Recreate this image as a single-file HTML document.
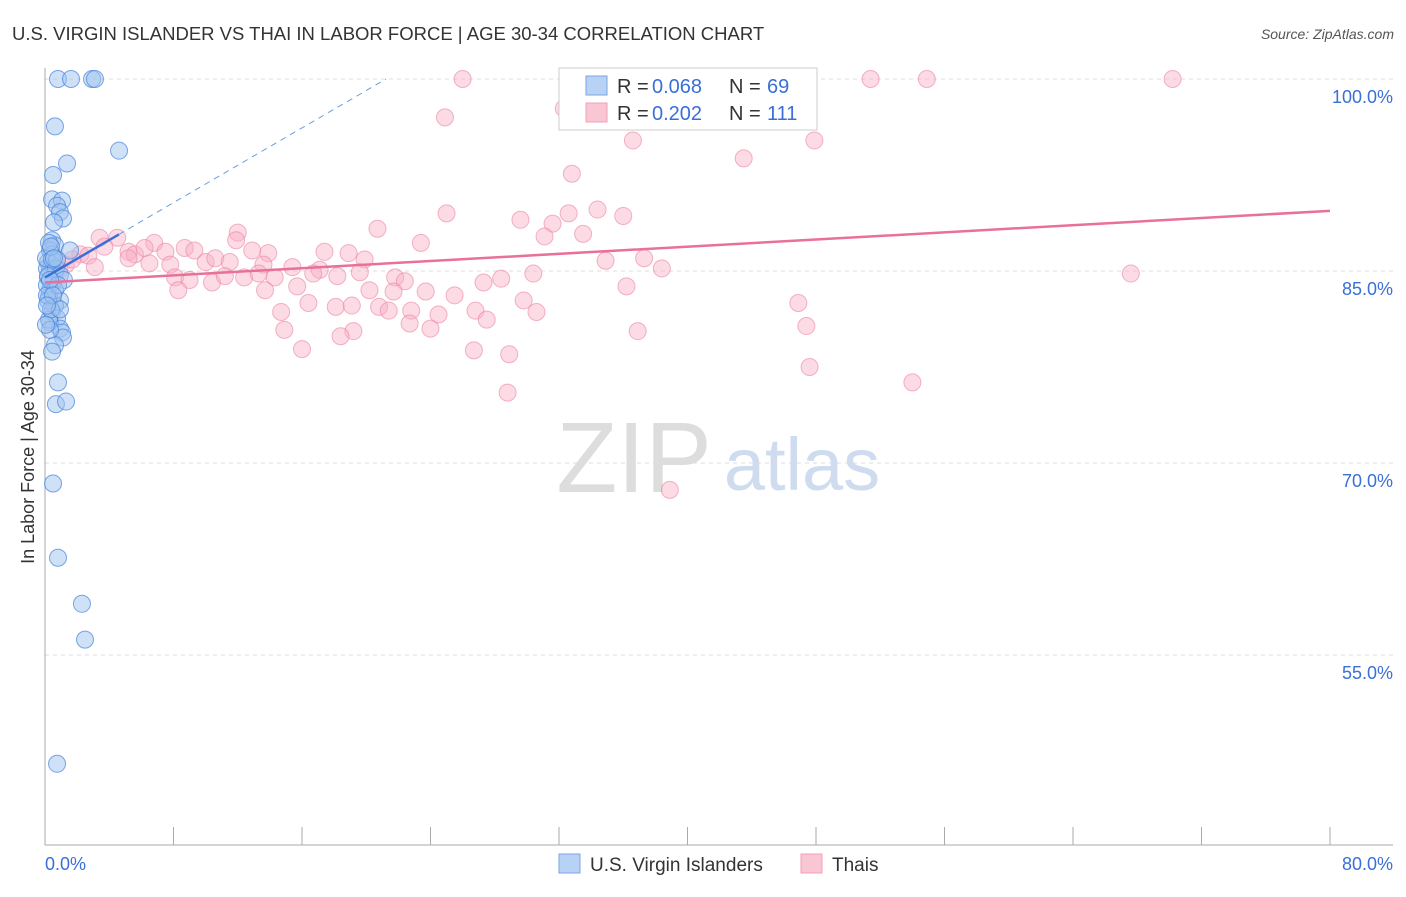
<!DOCTYPE html>
<html><head><meta charset="utf-8"><style>
body{margin:0;background:#fff;font-family:"Liberation Sans",sans-serif}
svg text{font-family:"Liberation Sans",sans-serif}
</style></head><body>
<svg id="chart" width="1406" height="892" xmlns="http://www.w3.org/2000/svg">
<text x="12" y="40" font-size="18.5" fill="#333">U.S. VIRGIN ISLANDER VS THAI IN LABOR FORCE | AGE 30-34 CORRELATION CHART</text>
<text x="1394" y="39" font-size="14" fill="#555" text-anchor="end" font-style="italic">Source: ZipAtlas.com</text>
<text x="634" y="492" font-size="100" fill="#ddd" text-anchor="middle" font-family="Liberation Serif">ZIP</text>
<text x="802" y="490" font-size="74" fill="#cfdcf0" text-anchor="middle">atlas</text>
<g id="grid"></g><g id="pts"></g><g id="trend"></g>
<text transform="translate(34,457) rotate(-90)" font-size="18" fill="#333" text-anchor="middle">In Labor Force | Age 30-34</text>
<text x="45" y="870" font-size="18" fill="#3a6fd8">0.0%</text>
<text x="1393" y="870" font-size="18" fill="#3a6fd8" text-anchor="end">80.0%</text>
<g>
<rect x="559" y="68" width="258" height="62" fill="#fff" stroke="#ccc"/>
<rect x="586" y="76" width="21" height="19" fill="#b8d2f5" stroke="#7aa5e5"/>
<rect x="586" y="103" width="21" height="19" fill="#f9c6d4" stroke="#f0a0b8"/>
<text y="93" font-size="20" fill="#333"><tspan x="617">R =</tspan><tspan x="652" fill="#3a6fd8">0.068</tspan><tspan x="729">N =</tspan><tspan x="767" fill="#3a6fd8">69</tspan></text>
<text y="120" font-size="20" fill="#333"><tspan x="617">R =</tspan><tspan x="652" fill="#3a6fd8">0.202</tspan><tspan x="729">N =</tspan><tspan x="767" fill="#3a6fd8">111</tspan></text>
</g>
<g>
<rect x="559" y="854" width="21" height="19" fill="#b8d2f5" stroke="#7aa5e5"/>
<text x="590" y="871" font-size="19" fill="#333">U.S. Virgin Islanders</text>
<rect x="801" y="854" width="21" height="19" fill="#f9c6d4" stroke="#f0a0b8"/>
<text x="832" y="871" font-size="19" fill="#333">Thais</text>
</g>
</svg>
<script>
const yTicks=[100,85,70,55];
const yTickLabels=["100.0%","85.0%","70.0%","55.0%"];
const xTicks=[0,8,16,24,32,40,48,56,64,72,80];
const blueX=[0.81,1.62,2.93,3.11,0.62,4.61,1.37,0.5,0.44,1.06,0.75,0.93,1.12,0.56,0.44,0.62,0.31,0.44,1.56,0.19,0.44,0.31,0.62,0.19,0.5,0.31,0.93,0.25,0.62,0.44,0.75,0.31,0.93,1.06,1.12,0.62,0.44,0.81,0.68,1.31,0.5,0.81,2.3,2.49,0.75,0.12,0.12,0.19,0.25,0.31,0.06,0.44,0.68,0.93,1.18,0.62,0.75,0.25,0.37,0.19,0.12,0.37,0.06,0.56,0.81,0.31,0.5,0.93,0.12];
const blueY=[100,100,100,100,96.3,94.4,93.4,92.5,90.6,90.5,90.1,89.6,89.1,88.8,87.4,87.0,86.6,86.3,86.6,85.7,85.5,85.1,84.9,84.5,84.1,83.5,82.7,83.0,82.3,81.8,81.3,81.0,80.5,80.2,79.8,79.2,78.7,76.3,74.6,74.8,68.4,62.6,59.0,56.2,46.5,85.2,83.9,82.7,81.2,80.4,86.0,85.9,85.2,84.7,84.3,83.5,85.9,87.2,86.9,84.6,83.1,82.0,80.8,86.0,83.9,84.3,83.1,82.0,82.3];
const pinkX=[26.0,41.6,51.4,54.9,70.2,32.3,24.9,36.6,43.5,47.9,32.8,25.0,29.6,31.6,32.6,34.4,36.0,31.1,33.5,20.7,23.4,12.0,11.9,3.4,4.5,6.8,8.7,9.3,12.9,13.9,17.4,18.9,19.9,2.2,2.7,3.7,5.2,5.6,6.2,7.5,5.2,6.5,7.8,10.0,10.6,11.5,13.6,15.4,17.1,3.1,0.9,1.3,1.7,8.1,9.0,10.4,11.2,12.4,13.3,14.3,16.7,18.2,19.6,21.8,22.4,8.3,13.7,15.7,20.2,21.7,23.7,25.5,27.3,28.4,30.4,34.9,37.3,38.4,36.2,16.4,18.1,19.1,20.8,21.4,22.8,24.5,26.8,27.5,29.8,30.6,14.7,14.9,19.2,18.4,22.7,24.0,16.0,26.7,28.9,36.9,46.9,47.4,47.6,54.0,28.8,38.9,67.6];
const pinkY=[100,100,100,100,100,97.7,97.0,95.2,93.8,95.2,92.6,89.5,89.0,88.7,89.5,89.8,89.3,87.7,87.9,88.3,87.2,88.0,87.4,87.6,87.6,87.2,86.8,86.6,86.6,86.4,86.5,86.4,85.9,86.3,86.2,86.9,86.5,86.3,86.8,86.5,86.0,85.6,85.5,85.7,86.0,85.7,85.5,85.3,85.1,85.3,85.1,85.5,85.9,84.5,84.3,84.1,84.6,84.5,84.8,84.5,84.8,84.6,84.9,84.5,84.2,83.5,83.5,83.8,83.5,83.4,83.4,83.1,84.1,84.4,84.8,85.8,86.0,85.2,83.8,82.5,82.2,82.3,82.2,81.9,81.9,81.6,81.9,81.2,82.7,81.8,81.8,80.4,80.3,79.9,80.9,80.5,78.9,78.8,78.5,80.3,82.5,80.7,77.5,76.3,75.5,67.9,84.8];
const blueTrend=[84.5,0.73];
const pinkTrend=[84.1,0.07];
const NS="http://www.w3.org/2000/svg";
const X=v=>45+v/80*1285;
const Y=v=>79+(100-v)*12.8;
function mk(t,a,p){const e=document.createElementNS(NS,t);for(const k in a)e.setAttribute(k,a[k]);p.appendChild(e);return e;}
const grid=document.getElementById('grid');
yTicks.forEach((t,i)=>{
 const l=mk('line',{x1:45,x2:1393,y1:Y(t),y2:Y(t),stroke:'#ddd','stroke-dasharray':'4,4'},grid);
 
 
 const tx=mk('text',{x:1393,y:Y(t)+24,'font-size':18,fill:'#3a6fd8','text-anchor':'end'},grid);
 tx.textContent=yTickLabels[i];
 
 
});
const ax=mk('line',{x1:45,x2:1393,y1:845,y2:845,stroke:'#aaa'},grid);


const ay=mk('line',{x1:45,x2:45,y1:68,y2:845,stroke:'#aaa'},grid);


xTicks.forEach(t=>{
 const l=mk('line',{x1:X(t),x2:X(t),y1:827,y2:845,stroke:'#aaa'},grid);
 
 
});
const pts=document.getElementById('pts');
pinkX.forEach((x,i)=>{
 const c=mk('circle',{cx:X(x),cy:Y(pinkY[i]),r:8.5,fill:'rgba(248,175,198,0.45)',stroke:'rgba(235,130,165,0.6)','stroke-width':1},pts);
 
 
});
blueX.forEach((x,i)=>{
 const c=mk('circle',{cx:X(x),cy:Y(blueY[i]),r:8.5,fill:'rgba(160,196,240,0.5)',stroke:'rgba(70,130,220,0.7)','stroke-width':1},pts);
 
 
});
const tr=document.getElementById('trend');
const bEnd=(100-blueTrend[0])/blueTrend[1];
const b1=mk('line',{x1:X(0),y1:Y(blueTrend[0]),x2:X(4.6),y2:Y(blueTrend[0]+blueTrend[1]*4.6),stroke:'#3a6fd8','stroke-width':2.5},tr);


const b2=mk('line',{x1:X(4.6),y1:Y(blueTrend[0]+blueTrend[1]*4.6),x2:X(bEnd),y2:Y(100),stroke:'#6a9de0','stroke-width':1,'stroke-dasharray':'6,5'},tr);


const p1=mk('line',{x1:X(0),y1:Y(pinkTrend[0]),x2:X(80),y2:Y(pinkTrend[0]+pinkTrend[1]*80),stroke:'#e8709a','stroke-width':2.5},tr);


</script>
</body></html>
